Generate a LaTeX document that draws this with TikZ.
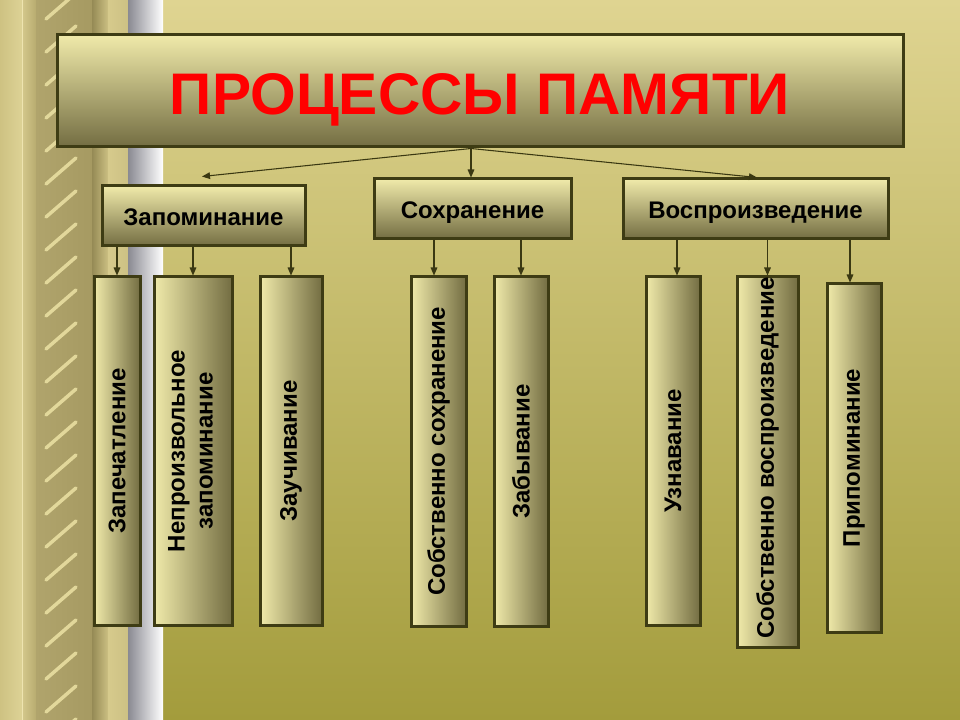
\documentclass[tikz,border=0pt]{standalone}
\usepackage{fontspec}
\setmainfont{Liberation Sans}
\usetikzlibrary{arrows.meta}
\definecolor{bgtop}{HTML}{DFD491}
\definecolor{bgmid}{HTML}{C9BF6C}
\definecolor{bgbot}{HTML}{A39C3C}
\definecolor{lite}{HTML}{F0EAAA}
\definecolor{dark}{HTML}{736D42}
\definecolor{edge}{HTML}{3E3C14}
\definecolor{arrc}{HTML}{3A3812}
\definecolor{titlered}{HTML}{FF0000}
\definecolor{stA}{HTML}{CEC282}
\definecolor{stB}{HTML}{DDD296}
\definecolor{stC}{HTML}{D4C88C}
\definecolor{stD}{HTML}{B8AC70}
\definecolor{colL}{HTML}{B0A46C}
\definecolor{colM}{HTML}{DDD197}
\definecolor{colR}{HTML}{A69A62}
\definecolor{stE}{HTML}{958A55}
\definecolor{stF}{HTML}{CBBF82}
\definecolor{stG}{HTML}{D6CA8C}
\definecolor{stH}{HTML}{CDC184}
\definecolor{stLight}{HTML}{EEE4B0}
\definecolor{stripe}{HTML}{F0E6A8}
\definecolor{silA}{HTML}{8A8A92}
\definecolor{silM}{HTML}{E6E6EA}
\definecolor{silB}{HTML}{FFFFFF}
\newcommand\boxfont{\fontsize{18}{21}\selectfont\bfseries}
\newcommand\titlefont{\fontsize{44}{50}\selectfont\bfseries}
\begin{document}
\begin{tikzpicture}[x=0.75pt,y=-0.75pt,
  titlebox/.style={draw=edge, line width=2.25pt, top color=lite, bottom color=dark, inner sep=0pt, font=\titlefont, text=titlered, text height=36pt, text depth=0pt},
  catbox/.style={draw=edge, line width=2.25pt, top color=lite, bottom color=dark, inner sep=0pt, font=\boxfont, text=black, minimum height=45pt, text height=14pt, text depth=0pt},
  childbox/.style={draw=edge, line width=2.25pt, left color=lite, right color=dark, inner sep=0pt, font=\boxfont, text=black},
  arr/.style={draw=arrc, line width=0.8pt, -{Triangle[length=6pt,width=5pt]}}]
\useasboundingbox (0,0) rectangle (960,720);
% background
\fill[top color=bgtop, middle color=bgmid, bottom color=bgbot] (0,0) rectangle (960,720);
% left decorative strip
\fill[left color=stA, right color=stB] (0,0) rectangle (22,720);
\fill[left color=stC, right color=stD] (22,0) rectangle (36,720);
\draw[stLight, line width=0.75pt] (22,0) -- (22,720);
\fill[left color=colL, middle color=colM, right color=colR] (36,0) rectangle (92,720);
\begin{scope}
  \clip (36,0) rectangle (92,720);
  \foreach \yy in {-40,-7,...,760} {
    \draw[stripe, opacity=0.8, line width=2.6pt, line cap=round] (46,\yy+26) -- (76,\yy);
  }
\end{scope}
\fill[left color=stE, right color=stF] (92,0) rectangle (108,720);
\draw[stLight, line width=0.75pt] (108,0) -- (108,720);
\fill[left color=stG, right color=stH] (108,0) rectangle (128,720);
\fill[left color=silA, middle color=silM, right color=silB] (128,0) rectangle (163,720);
% title
\node[titlebox, minimum width=634.5pt, minimum height=84pt] (title) at (480,91) {ПРОЦЕССЫ ПАМЯТИ};
% categories
\node[catbox, minimum width=152.25pt] (zap) at (203.5,216) {Запоминание};
\node[catbox, minimum width=147.75pt] (sokh) at (472.5,209) {Сохранение};
\node[catbox, minimum width=198.75pt] (vosp) at (755.5,209) {Воспроизведение};
% children
\node[childbox, minimum width=34.5pt, minimum height=261pt] (z1) at (117,451) {\rotatebox{90}{Запечатление}};
\node[childbox, minimum width=58.5pt, minimum height=261pt] (z2) at (193,451) {\rotatebox{90}{\begin{tabular}{@{}c@{}}Непроизвольное\\запоминание\end{tabular}}};
\node[childbox, minimum width=46.5pt, minimum height=261pt] (z3) at (291,451) {\rotatebox{90}{Заучивание}};
\node[childbox, minimum width=41.25pt, minimum height=261.75pt] (s1) at (438.5,451.5) {\rotatebox{90}{Собственно сохранение}};
\node[childbox, minimum width=40.5pt, minimum height=261.75pt] (s2) at (521,451.5) {\rotatebox{90}{Забывание}};
\node[childbox, minimum width=40.5pt, minimum height=261pt] (v1) at (673,451) {\rotatebox{90}{Узнавание}};
\node[childbox, minimum width=45.75pt, minimum height=277.5pt] (v2) at (767.5,462) {\rotatebox{90}{\hspace*{6pt}Собственно воспроизведение}};
\node[childbox, minimum width=40.5pt, minimum height=261pt] (v3) at (854,458) {\rotatebox{90}{Припоминание}};
% connectors from title
\coordinate (t0) at ([xshift=-6.75pt]title.south);
\coordinate (zapin) at ([xshift=-1.125pt,yshift=6pt]zap.north);
\draw[arr] (t0) -- (zapin);
\draw[arr] (t0) -- (t0 |- sokh.north);
\draw[arr] (t0) -- ([xshift=1.125pt]vosp.north);
% connectors to children
\draw[arr] (zap.south -| z1.north) -- (z1.north);
\draw[arr] (zap.south -| z2.north) -- (z2.north);
\draw[arr] (zap.south -| z3.north) -- (z3.north);
\coordinate (s1t) at ([xshift=-3.375pt]s1.north);
\draw[arr] (s1t |- sokh.south) -- (s1t);
\draw[arr] (sokh.south -| s2.north) -- (s2.north);
\coordinate (v1t) at ([xshift=3pt]v1.north);
\draw[arr] (v1t |- vosp.south) -- (v1t);
\draw[arr] (vosp.south -| v2.north) -- (v2.north);
\coordinate (v3t) at ([xshift=-3pt]v3.north);
\draw[arr] (v3t |- vosp.south) -- (v3t);
\end{tikzpicture}
\end{document}
